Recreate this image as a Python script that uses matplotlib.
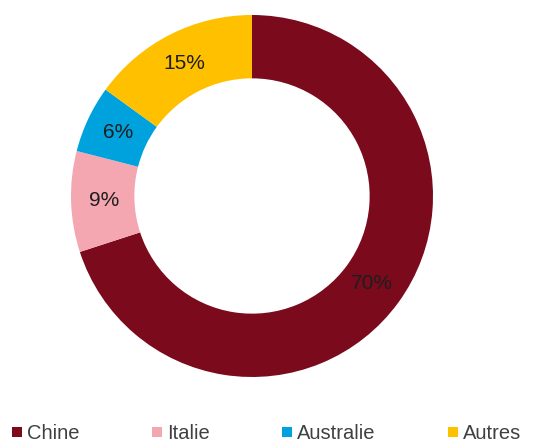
import matplotlib.pyplot as plt
from matplotlib.lines import Line2D

plt.rcParams['font.family'] = ['Liberation Sans', 'DejaVu Sans']

pays = ['Chine', 'Italie', 'Australie', 'Autres']
parts = [70, 9, 6, 15]
couleurs = ['#7A0A1C', '#F4A6B1', '#00A2DD', '#FFC000']

fig = plt.figure(figsize=(5.5, 4.44), dpi=100)
ax = fig.add_axes([71 / 550, 1 - 377 / 444, 362 / 550, 362 / 444])

wedges, texts, autotexts = ax.pie(parts, colors=couleurs, startangle=90, counterclock=False,
                                  radius=1, autopct='%d%%', pctdistance=0.82,
                                  wedgeprops=dict(width=0.35, linewidth=0),
                                  textprops=dict(fontsize=15, color='#1e1e1e'))
ax.set_xlim(-1, 1)
ax.set_ylim(-1, 1)
ax.set_aspect('equal')
ax.axis('off')

# legend at the bottom with small squares
handles = [Line2D([], [], marker='s', linestyle='none', markersize=7.6,
                  markerfacecolor=c, markeredgewidth=0) for c in couleurs]
leg = fig.legend(handles, pays, loc='lower left', bbox_to_anchor=(10 / 550, 0.002),
                 ncol=4, frameon=False, fontsize=14.5, handlelength=0.7,
                 handletextpad=0.14, columnspacing=3.5, borderpad=0, borderaxespad=0)
for t in leg.get_texts():
    t.set_color('#404040')

fig.savefig('out.png', dpi=100)
